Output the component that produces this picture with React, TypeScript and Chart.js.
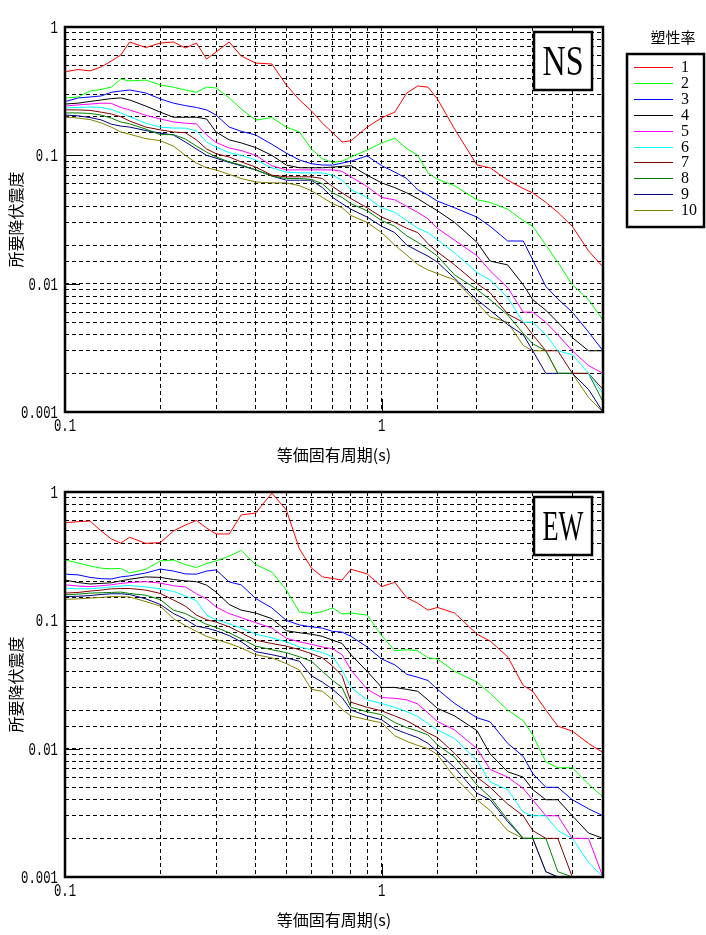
import { useEffect, useRef } from "react";
import { Chart, registerables } from "chart.js";

Chart.register(...registerables);

// periods (s) shared by every curve
const periods = [
  0.1, 0.11, 0.12, 0.13, 0.14, 0.15, 0.16, 0.18, 0.2, 0.22, 0.24, 0.26, 0.28, 0.3, 0.33, 0.36, 0.4, 0.45,
  0.5, 0.55, 0.6, 0.65, 0.7, 0.75, 0.8, 0.9, 1.0, 1.1, 1.2, 1.3, 1.4, 1.5, 1.7, 2.0, 2.2, 2.5, 2.8, 3.0,
  3.3, 3.6, 4.0, 4.5, 5.0,
];

const ductilityLabels = ["1", "2", "3", "4", "5", "6", "7", "8", "9", "10"];
const lineColors = ["#ff0000", "#00ff00", "#0000ff", "#000000", "#ff00ff", "#00ffff", "#800000", "#008000", "#000080", "#808000"];

// NS
const ns1 = [0.448, 0.466, 0.455, 0.488, 0.543, 0.605, 0.764, 0.692, 0.75, 0.764, 0.686, 0.75, 0.563, 0.64, 0.764, 0.594, 0.524, 0.515, 0.353, 0.27, 0.222, 0.178, 0.15, 0.127, 0.13, 0.166, 0.196, 0.217, 0.306, 0.347, 0.34, 0.275, 0.16, 0.084, 0.08, 0.064, 0.055, 0.051, 0.043, 0.036, 0.028, 0.018, 0.0135];
const ns2 = [0.28, 0.285, 0.317, 0.326, 0.34, 0.393, 0.38, 0.386, 0.353, 0.34, 0.323, 0.31, 0.34, 0.335, 0.28, 0.23, 0.188, 0.197, 0.166, 0.152, 0.112, 0.094, 0.088, 0.09, 0.097, 0.11, 0.125, 0.136, 0.113, 0.1, 0.073, 0.065, 0.058, 0.045, 0.043, 0.038, 0.031, 0.028, 0.02, 0.0147, 0.0098, 0.0075, 0.0052];
const ns3 = [0.262, 0.28, 0.285, 0.29, 0.31, 0.317, 0.323, 0.306, 0.275, 0.255, 0.244, 0.236, 0.226, 0.206, 0.166, 0.154, 0.144, 0.122, 0.104, 0.092, 0.086, 0.084, 0.084, 0.087, 0.09, 0.099, 0.083, 0.074, 0.066, 0.054, 0.049, 0.044, 0.039, 0.033, 0.028, 0.0215, 0.0215, 0.0153, 0.0095, 0.0076, 0.006, 0.0042, 0.003];
const ns4 = [0.251, 0.255, 0.263, 0.27, 0.277, 0.28, 0.27, 0.242, 0.217, 0.198, 0.198, 0.198, 0.192, 0.152, 0.132, 0.125, 0.115, 0.1, 0.084, 0.08, 0.08, 0.08, 0.081, 0.082, 0.083, 0.07, 0.061, 0.056, 0.051, 0.046, 0.041, 0.037, 0.03, 0.021, 0.015, 0.014, 0.0098, 0.0075, 0.0062, 0.005, 0.0038, 0.003, 0.003];
const ns5 = [0.242, 0.247, 0.251, 0.255, 0.254, 0.236, 0.226, 0.205, 0.192, 0.182, 0.178, 0.176, 0.144, 0.126, 0.114, 0.109, 0.1, 0.083, 0.077, 0.077, 0.077, 0.077, 0.077, 0.075, 0.068, 0.057, 0.047, 0.045, 0.04, 0.036, 0.032, 0.027, 0.0218, 0.0165, 0.0126, 0.0093, 0.006, 0.006, 0.005, 0.004, 0.003, 0.0023, 0.002];
const ns6 = [0.234, 0.236, 0.238, 0.236, 0.228, 0.214, 0.2, 0.178, 0.166, 0.163, 0.163, 0.155, 0.127, 0.116, 0.105, 0.1, 0.092, 0.08, 0.074, 0.073, 0.073, 0.073, 0.07, 0.064, 0.054, 0.047, 0.039, 0.036, 0.031, 0.027, 0.025, 0.022, 0.0174, 0.0122, 0.0107, 0.0078, 0.005, 0.005, 0.004, 0.003, 0.0028, 0.002, 0.0014];
const ns7 = [0.226, 0.226, 0.224, 0.217, 0.21, 0.2, 0.185, 0.166, 0.158, 0.152, 0.15, 0.132, 0.112, 0.103, 0.097, 0.089, 0.081, 0.07, 0.068, 0.068, 0.068, 0.066, 0.057, 0.051, 0.046, 0.039, 0.033, 0.03, 0.027, 0.025, 0.0205, 0.0177, 0.014, 0.01, 0.0085, 0.0058, 0.005, 0.004, 0.003, 0.003, 0.002, 0.002, 0.0015];
const ns8 = [0.214, 0.214, 0.212, 0.206, 0.195, 0.182, 0.176, 0.16, 0.145, 0.145, 0.134, 0.118, 0.106, 0.097, 0.089, 0.084, 0.077, 0.069, 0.066, 0.066, 0.065, 0.06, 0.051, 0.047, 0.042, 0.037, 0.031, 0.028, 0.0236, 0.021, 0.0186, 0.0164, 0.0117, 0.009, 0.0075, 0.0057, 0.0041, 0.0034, 0.003, 0.002, 0.002, 0.002, 0.0012];
const ns9 = [0.206, 0.203, 0.197, 0.189, 0.175, 0.169, 0.166, 0.156, 0.149, 0.144, 0.127, 0.112, 0.1, 0.095, 0.088, 0.083, 0.077, 0.069, 0.064, 0.064, 0.064, 0.056, 0.047, 0.042, 0.038, 0.033, 0.028, 0.025, 0.02, 0.018, 0.0164, 0.0147, 0.011, 0.0075, 0.0062, 0.0048, 0.004, 0.003, 0.002, 0.002, 0.002, 0.0015, 0.001];
const ns10 = [0.199, 0.195, 0.19, 0.179, 0.166, 0.152, 0.146, 0.135, 0.13, 0.118, 0.1, 0.087, 0.08, 0.077, 0.071, 0.066, 0.062, 0.061, 0.061, 0.058, 0.053, 0.047, 0.042, 0.039, 0.034, 0.03, 0.025, 0.02, 0.0167, 0.0141, 0.0128, 0.012, 0.0107, 0.0071, 0.0055, 0.005, 0.0033, 0.003, 0.003, 0.002, 0.002, 0.0013, 0.001];

// EW
const ew1 = [0.577, 0.587, 0.594, 0.497, 0.431, 0.4, 0.444, 0.398, 0.403, 0.497, 0.553, 0.6, 0.524, 0.471, 0.471, 0.662, 0.686, 0.98, 0.724, 0.36, 0.256, 0.218, 0.212, 0.206, 0.25, 0.23, 0.183, 0.198, 0.15, 0.136, 0.12, 0.126, 0.114, 0.078, 0.069, 0.052, 0.031, 0.028, 0.02, 0.015, 0.0137, 0.011, 0.0093];
const ew2 = [0.295, 0.28, 0.265, 0.255, 0.252, 0.254, 0.234, 0.25, 0.29, 0.295, 0.272, 0.258, 0.277, 0.29, 0.317, 0.35, 0.272, 0.238, 0.172, 0.116, 0.113, 0.117, 0.125, 0.112, 0.114, 0.11, 0.076, 0.058, 0.059, 0.058, 0.051, 0.05, 0.04, 0.033, 0.027, 0.02, 0.0165, 0.0128, 0.0079, 0.0071, 0.0071, 0.0053, 0.0042];
const ew3 = [0.229, 0.226, 0.216, 0.211, 0.21, 0.218, 0.222, 0.234, 0.251, 0.242, 0.23, 0.229, 0.242, 0.247, 0.199, 0.189, 0.148, 0.125, 0.1, 0.092, 0.089, 0.087, 0.082, 0.081, 0.075, 0.062, 0.05, 0.045, 0.038, 0.036, 0.034, 0.029, 0.0225, 0.0174, 0.0162, 0.011, 0.0087, 0.0064, 0.005, 0.005, 0.004, 0.0034, 0.003];
const ew4 = [0.206, 0.197, 0.192, 0.194, 0.196, 0.203, 0.209, 0.218, 0.216, 0.208, 0.203, 0.2, 0.188, 0.166, 0.133, 0.12, 0.114, 0.103, 0.083, 0.08, 0.078, 0.075, 0.07, 0.066, 0.054, 0.04, 0.03, 0.03, 0.029, 0.028, 0.024, 0.0206, 0.018, 0.0138, 0.0091, 0.0066, 0.006, 0.0048, 0.004, 0.004, 0.003, 0.0022, 0.002];
const ew5 = [0.189, 0.185, 0.183, 0.186, 0.189, 0.194, 0.197, 0.2, 0.195, 0.186, 0.182, 0.161, 0.147, 0.127, 0.113, 0.105, 0.096, 0.087, 0.0725, 0.068, 0.065, 0.062, 0.06, 0.054, 0.041, 0.029, 0.025, 0.0247, 0.024, 0.0223, 0.019, 0.0163, 0.014, 0.01, 0.0069, 0.006, 0.0049, 0.004, 0.003, 0.003, 0.002, 0.002, 0.001];
const ew6 = [0.178, 0.176, 0.176, 0.179, 0.182, 0.185, 0.187, 0.182, 0.176, 0.168, 0.155, 0.142, 0.11, 0.101, 0.094, 0.087, 0.078, 0.073, 0.068, 0.062, 0.059, 0.056, 0.052, 0.041, 0.03, 0.024, 0.0225, 0.021, 0.0194, 0.0178, 0.0157, 0.014, 0.012, 0.0081, 0.0055, 0.0048, 0.0032, 0.003, 0.003, 0.0023, 0.002, 0.0013, 0.001];
const ew7 = [0.163, 0.165, 0.169, 0.172, 0.176, 0.177, 0.177, 0.172, 0.162, 0.144, 0.129, 0.11, 0.101, 0.097, 0.089, 0.08, 0.07, 0.066, 0.063, 0.059, 0.055, 0.051, 0.044, 0.037, 0.023, 0.021, 0.0197, 0.018, 0.0165, 0.0148, 0.0133, 0.0122, 0.0092, 0.006, 0.005, 0.0037, 0.003, 0.0023, 0.002, 0.002, 0.001, 0.001, 0.001];
const ew8 = [0.158, 0.16, 0.163, 0.164, 0.165, 0.166, 0.162, 0.157, 0.145, 0.12, 0.113, 0.102, 0.093, 0.088, 0.08, 0.072, 0.063, 0.059, 0.056, 0.052, 0.048, 0.04, 0.034, 0.03, 0.021, 0.0194, 0.0184, 0.016, 0.0146, 0.0137, 0.0128, 0.0107, 0.0086, 0.0052, 0.0042, 0.0028, 0.002, 0.002, 0.002, 0.0011, 0.001, 0.001, 0.001];
const ew9 = [0.153, 0.154, 0.156, 0.159, 0.161, 0.161, 0.159, 0.147, 0.133, 0.113, 0.102, 0.09, 0.087, 0.083, 0.076, 0.068, 0.057, 0.054, 0.051, 0.048, 0.037, 0.033, 0.029, 0.025, 0.02, 0.018, 0.0168, 0.0142, 0.0131, 0.0122, 0.011, 0.0095, 0.0071, 0.0045, 0.004, 0.0027, 0.002, 0.002, 0.0011, 0.001, 0.001, 0.001, 0.001];
const ew10 = [0.146, 0.147, 0.149, 0.151, 0.153, 0.153, 0.152, 0.14, 0.129, 0.103, 0.091, 0.082, 0.075, 0.071, 0.066, 0.061, 0.054, 0.051, 0.046, 0.041, 0.029, 0.028, 0.024, 0.0202, 0.018, 0.0168, 0.0159, 0.0126, 0.0114, 0.0106, 0.01, 0.009, 0.006, 0.004, 0.0033, 0.0023, 0.002, 0.002, 0.0011, 0.001, 0.001, 0.001, 0.001];

const nsSeries = [ns1, ns2, ns3, ns4, ns5, ns6, ns7, ns8, ns9, ns10];
const ewSeries = [ew1, ew2, ew3, ew4, ew5, ew6, ew7, ew8, ew9, ew10];

const xTitle = "等価固有周期(s)";
const yTitle = "所要降伏震度";
const legendTitle = "塑性率";

const CJK = "'Noto Sans CJK JP', sans-serif";
const MONO = "'Liberation Mono', monospace";
const SERIF = "'Liberation Serif', serif";

const isDecade = (v: number) => Math.abs(Math.log10(v) - Math.round(Math.log10(v))) < 1e-6;
const decadeLabel = (v: number) => {
  const e = Math.round(Math.log10(v));
  return e >= 0 ? String(Math.pow(10, e)) : Math.pow(10, e).toFixed(-e);
};

// narrow, tall tick text like the original plotter font
function drawTickText(ctx: CanvasRenderingContext2D, text: string, x: number, y: number, align: CanvasTextAlign) {
  ctx.save();
  ctx.translate(x, y);
  ctx.scale(0.82, 1.22);
  ctx.font = `15px ${MONO}`;
  ctx.textAlign = align;
  ctx.textBaseline = "middle";
  ctx.fillText(text, 0, 0);
  ctx.restore();
}

function makeFramePlugin(tag: string, showLegend: boolean) {
  return {
    id: "frame",
    afterDraw(chart: any) {
      const { ctx, chartArea: a, scales } = chart;
      ctx.save();
      ctx.strokeStyle = "#000";
      ctx.fillStyle = "#000";
      ctx.setLineDash([]);

      // solid stubs on the decade lines
      ctx.lineWidth = 1;
      ctx.beginPath();
      for (const v of [0.1, 0.01]) {
        const y = Math.round(scales.y.getPixelForValue(v)) + 0.5;
        ctx.moveTo(a.left, y);
        ctx.lineTo(a.left + 15, y);
      }
      const x1 = Math.round(scales.x.getPixelForValue(1)) + 0.5;
      ctx.moveTo(x1, a.bottom);
      ctx.lineTo(x1, a.bottom - 13);
      ctx.stroke();

      // frame
      ctx.lineWidth = 2.5;
      ctx.strokeRect(a.left, a.top, a.right - a.left, a.bottom - a.top);

      // tick labels at the decades
      scales.y.ticks.forEach((t: any) => {
        if (isDecade(t.value)) drawTickText(ctx, decadeLabel(t.value), a.left - 7, scales.y.getPixelForValue(t.value) + 1, "right");
      });
      scales.x.ticks.forEach((t: any) => {
        if (isDecade(t.value)) drawTickText(ctx, decadeLabel(t.value), scales.x.getPixelForValue(t.value), a.bottom + 14, "center");
      });

      // NS / EW box
      const bx = a.right - 69, by = a.top + 5, bw = 58, bh = 58;
      ctx.fillStyle = "#fff";
      ctx.fillRect(bx, by, bw, bh);
      ctx.fillStyle = "#000";
      ctx.strokeRect(bx, by, bw, bh);
      ctx.font = `30px ${SERIF}`;
      const tw = ctx.measureText(tag).width;
      ctx.save();
      ctx.translate(bx + bw / 2, by + bh / 2 + 14);
      ctx.scale(41 / tw, 1.42);
      ctx.textAlign = "center";
      ctx.textBaseline = "alphabetic";
      ctx.fillText(tag, 0, 0);
      ctx.restore();

      // axis titles
      ctx.font = `16px ${CJK}`;
      ctx.textAlign = "center";
      ctx.textBaseline = "middle";
      ctx.fillText(xTitle, (a.left + a.right) / 2, a.bottom + 43);
      ctx.save();
      ctx.translate(16, (a.top + a.bottom) / 2);
      ctx.rotate(-Math.PI / 2);
      ctx.fillText(yTitle, 0, 0);
      ctx.restore();

      if (showLegend) {
        ctx.font = `15px ${CJK}`;
        ctx.fillText(legendTitle, 673, 37);
        ctx.lineWidth = 2.5;
        ctx.strokeRect(627, 54, 77, 173);
        ctx.font = `16px ${SERIF}`;
        ctx.textAlign = "left";
        chart.data.datasets.forEach((ds: any, i: number) => {
          const y = Math.round(67 + i * 15.9) + 0.5;
          ctx.strokeStyle = ds.borderColor;
          ctx.lineWidth = 1;
          ctx.beginPath();
          ctx.moveTo(634, y);
          ctx.lineTo(673, y);
          ctx.stroke();
          ctx.fillText(ds.label, 681, y);
        });
      }
      ctx.restore();
    },
  };
}

function SpectrumChart({ tag, series, height, showLegend }: { tag: string; series: number[][]; height: number; showLegend: boolean }) {
  const canvasRef = useRef<HTMLCanvasElement>(null);

  useEffect(() => {
    if (!canvasRef.current) return;
    const chart = new Chart(canvasRef.current, {
      type: "line",
      data: {
        datasets: series.map((values, i) => ({
          label: ductilityLabels[i],
          data: periods.map((p, j) => ({ x: p, y: values[j] })),
          borderColor: lineColors[i],
          backgroundColor: lineColors[i],
          borderWidth: 1,
          pointRadius: 0,
          tension: 0,
          fill: false,
        })),
      },
      options: {
        responsive: false,
        animation: false,
        events: [],
        layout: { padding: { left: 0, right: 103, top: 27, bottom: height - 412 - 30 } },
        plugins: { legend: { display: false }, tooltip: { enabled: false } },
        scales: {
          x: {
            type: "logarithmic",
            min: 0.1,
            max: 5,
            afterFit: (scale: any) => {
              scale.height = 30;
            },
            grid: { color: "#000", lineWidth: 1, drawTicks: false },
            border: { display: false, dash: [4, 3] },
            ticks: { display: false, autoSkip: false },
          },
          y: {
            type: "logarithmic",
            min: 0.001,
            max: 1,
            afterFit: (scale: any) => {
              scale.width = 65;
            },
            grid: { color: "#000", lineWidth: 1, drawTicks: false },
            border: { display: false, dash: [4, 3] },
            ticks: { display: false, autoSkip: false },
          },
        },
      },
      plugins: [makeFramePlugin(tag, showLegend)],
    });
    return () => chart.destroy();
  }, [tag, series, height, showLegend]);

  return <canvas ref={canvasRef} width={706} height={height} style={{ display: "block", width: 706, height }} />;
}

export default function App() {
  return (
    <div style={{ position: "absolute", left: 0, top: 0, width: 706, height: 935, background: "#fff" }}>
      <SpectrumChart tag="NS" series={nsSeries} height={465} showLegend />
      <SpectrumChart tag="EW" series={ewSeries} height={470} showLegend={false} />
    </div>
  );
}
